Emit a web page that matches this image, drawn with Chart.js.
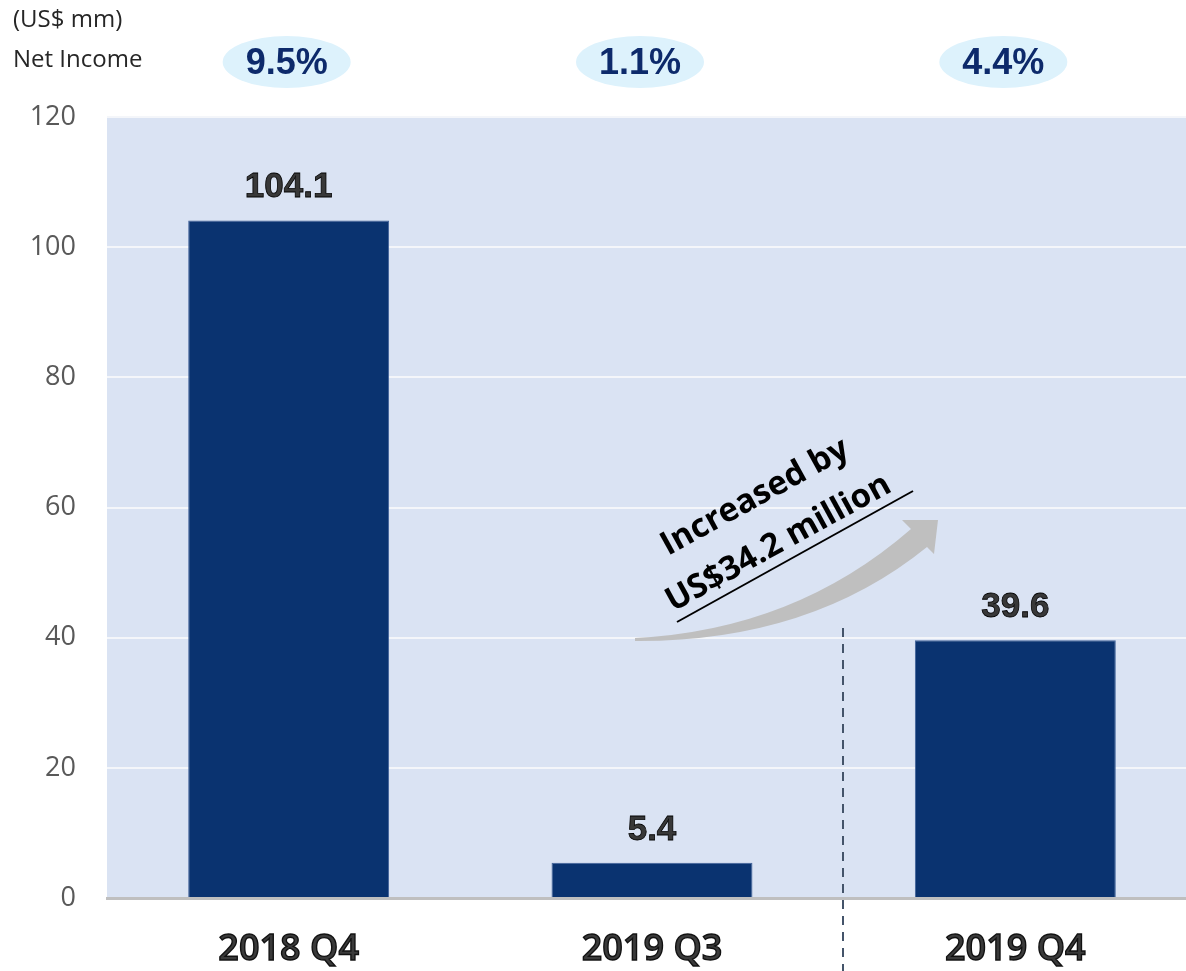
<!DOCTYPE html>
<html>
<head>
<meta charset="utf-8">
<script src="https://cdn.jsdelivr.net/npm/chart.js@4"></script>
<style>
  html, body { margin: 0; padding: 0; background: #fff; overflow: hidden; }
  #wrap { position: relative; width: 1200px; height: 971px; }
</style>
</head>
<body>
<div id="wrap"><canvas id="chart" width="1200" height="971"></canvas></div>
<script>
const quarters = ['2018 Q4', '2019 Q3', '2019 Q4']
const netIncome = [104.1, 5.4, 39.6]
const netMargin = ['9.5%', '1.1%', '4.4%']
const yTicks = [0, 20, 40, 60, 80, 100, 120]
const increaseNote = ['Increased by', 'US$34.2 million']

const NAVY = '#0a3370'

// plot background + header texts + margin bubbles
const backdrop = {
  id: 'backdrop',
  beforeDraw(chart) {
    const { ctx, chartArea: a } = chart
    ctx.save()
    ctx.fillStyle = '#dae3f3'
    ctx.fillRect(a.left, a.top, a.right - a.left, a.bottom - a.top)

    ctx.fillStyle = '#262626'
    ctx.font = '24px "Open Sans"'
    ctx.textBaseline = 'middle'
    ctx.textAlign = 'left'
    ctx.fillText('(US$ mm)', 13, 20)
    ctx.fillText('Net Income', 13, 60)

    const x = chart.scales.x
    netMargin.forEach((m, i) => {
      const cx = x.getPixelForValue(i) - (i ? 12 : 2)
      ctx.fillStyle = '#ddf2fc'
      ctx.beginPath()
      ctx.ellipse(cx, 62, 64, 26, 0, 0, Math.PI * 2)
      ctx.fill()
      ctx.fillStyle = '#0d2a6b'
      ctx.font = 'bold 36px "Liberation Sans"'
      ctx.textAlign = 'center'
      ctx.fillText(m, cx, 64)
    })
    ctx.restore()
  }
}

// value labels, arrow, note, divider
const overlay = {
  id: 'overlay',
  afterDatasetsDraw(chart) {
    const { ctx } = chart
    const meta = chart.getDatasetMeta(0)
    ctx.save()
    ctx.font = 'bold 35px "Liberation Sans"'
    ctx.textAlign = 'center'
    ctx.textBaseline = 'middle'
    ctx.lineWidth = 0.8
    meta.data.forEach((bar, i) => {
      const y = bar.y - 33
      ctx.fillStyle = '#383838'
      ctx.fillText(netIncome[i].toFixed(1), bar.x, y)
      ctx.strokeStyle = '#000'
      ctx.strokeText(netIncome[i].toFixed(1), bar.x, y)
    })

    // growth arrow
    ctx.fillStyle = '#bfbfbf'
    ctx.beginPath()
    ctx.moveTo(635, 641)
    ctx.quadraticCurveTo(810, 642, 927, 547)
    ctx.lineTo(934, 554)
    ctx.lineTo(938, 520)
    ctx.lineTo(902, 520)
    ctx.lineTo(911, 529)
    ctx.quadraticCurveTo(795, 630, 635, 638)
    ctx.closePath()
    ctx.fill()

    // note text, rotated
    const ang = Math.atan2(492 - 622, 913 - 677)
    ctx.fillStyle = '#000'
    ctx.font = 'bold 33px "Open Sans"'
    ctx.textAlign = 'left'
    ctx.textBaseline = 'alphabetic'
    ctx.save()
    ctx.translate(668, 556)
    ctx.rotate(ang)
    ctx.fillText(increaseNote[0], 0, 0)
    ctx.restore()
    ctx.save()
    ctx.translate(673, 612)
    ctx.rotate(ang)
    ctx.fillText(increaseNote[1], 0, 0)
    ctx.restore()
    ctx.strokeStyle = '#000'
    ctx.lineWidth = 2
    ctx.beginPath()
    ctx.moveTo(677, 622)
    ctx.lineTo(913, 491)
    ctx.stroke()

    // divider
    ctx.strokeStyle = '#44546a'
    ctx.lineWidth = 2
    ctx.setLineDash([9, 7])
    ctx.beginPath()
    ctx.moveTo(843, 628)
    ctx.lineTo(843, 971)
    ctx.stroke()
    ctx.restore()
  },
  afterDraw(chart) {
    // outlined category labels
    const { ctx } = chart
    const x = chart.scales.x
    ctx.save()
    ctx.font = '600 36px "Open Sans"'
    ctx.textAlign = 'center'
    ctx.textBaseline = 'middle'
    ctx.lineWidth = 1.4
    quarters.forEach((q, i) => {
      const px = x.getPixelForValue(i)
      ctx.fillStyle = '#3a3a3a'
      ctx.fillText(q, px, 950)
      ctx.strokeStyle = '#111'
      ctx.strokeText(q, px, 950)
    })
    ctx.restore()
  }
}

new Chart(document.getElementById('chart'), {
  type: 'bar',
  data: {
    labels: quarters,
    datasets: [{
      data: netIncome,
      backgroundColor: NAVY,
      borderColor: '#3f6199',
      borderWidth: 1,
      barPercentage: 0.553,
      categoryPercentage: 1
    }]
  },
  options: {
    responsive: false,
    animation: false,
    events: [],
    layout: { padding: { top: 117, right: 3, left: 0, bottom: 0 } },
    plugins: { legend: { display: false }, tooltip: { enabled: false } },
    scales: {
      x: {
        grid: { display: false, drawTicks: false },
        border: { display: true, color: '#bfbfbf', width: 3 },
        ticks: { display: false },
        afterFit: s => { s.height = 73 }
      },
      y: {
        min: 0,
        max: 120,
        afterBuildTicks: s => { s.ticks = yTicks.map(v => ({ value: v })) },
        grid: { color: '#f4f6fa', lineWidth: 2, drawTicks: false },
        border: { display: false },
        ticks: {
          padding: 31,
          color: '#595959',
          font: { family: 'Open Sans', size: 27 }
        },
        afterFit: s => { s.width = 107 }
      }
    }
  },
  plugins: [backdrop, overlay]
})
</script>
</body>
</html>
